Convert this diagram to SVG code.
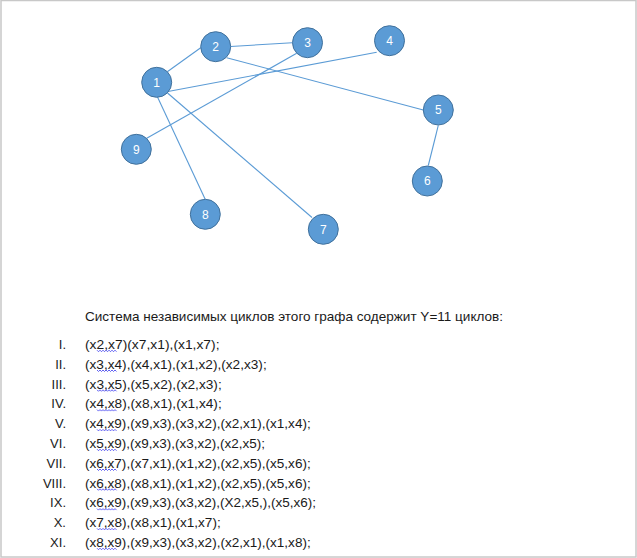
<svg xmlns="http://www.w3.org/2000/svg" width="637" height="558" viewBox="0 0 637 558">
<style>
.node circle{fill:#5B9BD5;stroke:#41719C;stroke-width:1}
.node text{fill:#ffffff;font-family:"Liberation Sans",Arial,sans-serif;font-size:12px;text-anchor:middle}
.edge{stroke:#5B9BD5;stroke-width:1.1;fill:none}
.t{font-family:"Liberation Sans",Arial,sans-serif;font-size:13px;fill:#1a1a1a}
.num{text-anchor:end}
.sq{stroke:#3a3af0;stroke-width:0.8;fill:none}
</style>
<defs>
<path id="sq" d="M0,0 l1.5,1.5 1.5,-1.5 1.5,1.5 1.5,-1.5 1.5,1.5 1.5,-1.5 1.5,1.5 1.5,-1.5 1.5,1.5 1.5,-1.5 1.5,1.5 1.5,-1.5 1.5,1.5"/>
</defs>
<rect x="1" y="0.5" width="635" height="556.5" fill="#ffffff" stroke="#c8c8c8" stroke-width="1.5"/>
<g id="connectors">
<line class="edge" x1="167.3" y1="71.7" x2="200.7" y2="47.7"/>
<line class="edge" x1="230.5" y1="46.5" x2="292.3" y2="42.7"/>
<line class="edge" x1="168" y1="91.5" x2="376.7" y2="52.3"/>
<line class="edge" x1="296.7" y1="53.3" x2="146.7" y2="138.3"/>
<line class="edge" x1="226.7" y1="57.7" x2="423.3" y2="110"/>
<line class="edge" x1="438.3" y1="125.3" x2="428.3" y2="165.5"/>
<line class="edge" x1="157.5" y1="97" x2="205.3" y2="199.5"/>
<line class="edge" x1="167.5" y1="93" x2="312" y2="217.5"/>
</g>
<g id="node1" class="node"><circle cx="156.7" cy="82.3" r="15"/><text x="156.7" y="86.5">1</text></g>
<g id="node2" class="node"><circle cx="215.7" cy="46.7" r="15"/><text x="215.7" y="50.9">2</text></g>
<g id="node3" class="node"><circle cx="307.5" cy="42.7" r="15"/><text x="307.5" y="46.9">3</text></g>
<g id="node4" class="node"><circle cx="389.5" cy="40.7" r="15"/><text x="389.5" y="44.9">4</text></g>
<g id="node5" class="node"><circle cx="438.3" cy="110" r="15"/><text x="438.3" y="114.2">5</text></g>
<g id="node6" class="node"><circle cx="427.3" cy="181" r="15"/><text x="427.3" y="185.2">6</text></g>
<g id="node7" class="node"><circle cx="323.3" cy="229.3" r="15"/><text x="323.3" y="233.5">7</text></g>
<g id="node8" class="node"><circle cx="205.3" cy="214.3" r="15"/><text x="205.3" y="218.5">8</text></g>
<g id="node9" class="node"><circle cx="136.3" cy="149.3" r="15"/><text x="136.3" y="153.5">9</text></g>
<g id="text">
<text class="t" x="85" y="321" textLength="418" lengthAdjust="spacingAndGlyphs">Система независимых циклов этого графа содержит Υ=11 циклов:</text>
<text class="t num" x="66" y="349">I.</text>
<text class="t num" x="66" y="368.8">II.</text>
<text class="t num" x="66" y="388.6">III.</text>
<text class="t num" x="66" y="408.4">IV.</text>
<text class="t num" x="66" y="428.2">V.</text>
<text class="t num" x="66" y="448">VI.</text>
<text class="t num" x="66" y="467.8">VII.</text>
<text class="t num" x="66" y="487.6">VIII.</text>
<text class="t num" x="66" y="507.4">IX.</text>
<text class="t num" x="66" y="527.2">X.</text>
<text class="t num" x="66" y="547">XI.</text>
<text class="t" x="85" y="349" textLength="134.5" lengthAdjust="spacingAndGlyphs">(x2,x7)(x7,x1),(x1,x7);</text>
<text class="t" x="85" y="368.8" textLength="181.7" lengthAdjust="spacingAndGlyphs">(x3,x4),(x4,x1),(x1,x2),(x2,x3);</text>
<text class="t" x="85" y="388.6" textLength="136.7" lengthAdjust="spacingAndGlyphs">(x3,x5),(x5,x2),(x2,x3);</text>
<text class="t" x="85" y="408.4" textLength="136.7" lengthAdjust="spacingAndGlyphs">(x4,x8),(x8,x1),(x1,x4);</text>
<text class="t" x="85" y="428.2" textLength="225.7" lengthAdjust="spacingAndGlyphs">(x4,x9),(x9,x3),(x3,x2),(x2,x1),(x1,x4);</text>
<text class="t" x="85" y="448" textLength="180" lengthAdjust="spacingAndGlyphs">(x5,x9),(x9,x3),(x3,x2),(x2,x5);</text>
<text class="t" x="85" y="467.8" textLength="225.7" lengthAdjust="spacingAndGlyphs">(x6,x7),(x7,x1),(x1,x2),(x2,x5),(x5,x6);</text>
<text class="t" x="85" y="487.6" textLength="225.7" lengthAdjust="spacingAndGlyphs">(x6,x8),(x8,x1),(x1,x2),(x2,x5),(x5,x6);</text>
<text class="t" x="85" y="507.4" textLength="231" lengthAdjust="spacingAndGlyphs">(x6,x9),(x9,x3),(x3,x2),(X2,x5,),(x5,x6);</text>
<text class="t" x="85" y="527.2" textLength="135.7" lengthAdjust="spacingAndGlyphs">(x7,x8),(x8,x1),(x1,x7);</text>
<text class="t" x="85" y="547" textLength="225.7" lengthAdjust="spacingAndGlyphs">(x8,x9),(x9,x3),(x3,x2),(x2,x1),(x1,x8);</text>
</g>
<g id="spellcheck" class="sq">
<use href="#sq" x="97" y="350.2"/>
<use href="#sq" x="97" y="370"/>
<use href="#sq" x="97" y="389.8"/>
<use href="#sq" x="97" y="409.6"/>
<use href="#sq" x="97" y="429.4"/>
<use href="#sq" x="97" y="449.2"/>
<use href="#sq" x="97" y="469"/>
<use href="#sq" x="97" y="488.8"/>
<use href="#sq" x="97" y="508.6"/>
<use href="#sq" x="97" y="528.4"/>
<use href="#sq" x="97" y="548.2"/>
</g>
</svg>
